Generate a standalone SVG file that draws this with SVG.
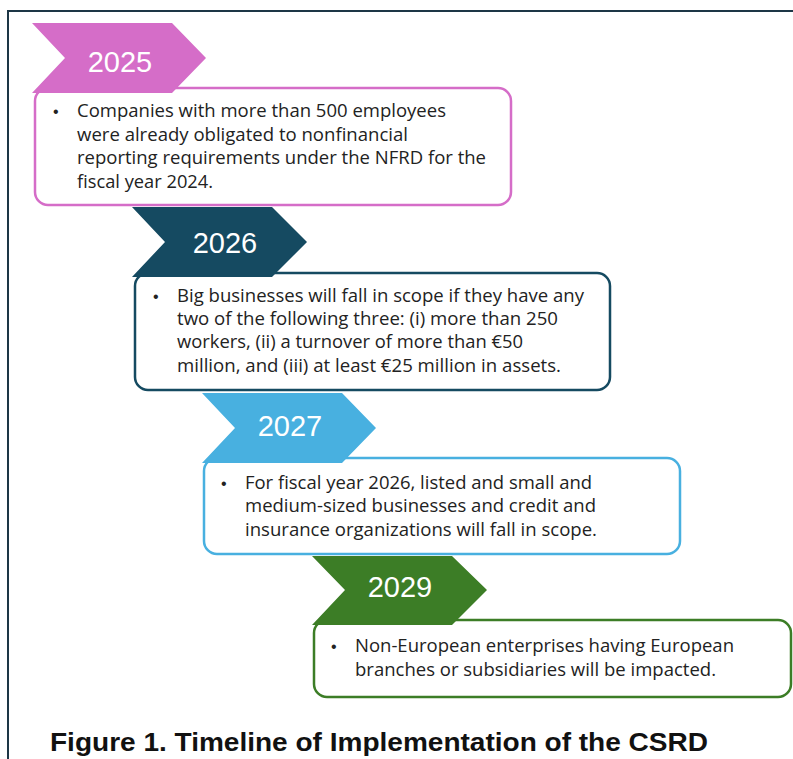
<svg xmlns="http://www.w3.org/2000/svg" width="793" height="759" viewBox="0 0 793 759">
  <style>
    .frame { stroke: #1d3646; stroke-width: 2; fill: none; }
    .box { fill: #ffffff; stroke-width: 2.5; }
    .year { font-family: "Liberation Sans", Arial, sans-serif; font-size: 29px; fill: #ffffff; text-anchor: middle; }
    .body { font-family: "Open Sans", "Noto Sans", sans-serif; font-size: 17.5px; fill: #222222; }
    .bullet { font-family: "Liberation Sans", Arial, sans-serif; font-size: 16px; fill: #222222; }
    .caption { font-family: "Liberation Sans", Arial, sans-serif; font-size: 25px; font-weight: bold; fill: #111111; }
  </style>

  <rect width="793" height="759" fill="#ffffff"/>

  <!-- outer frame -->
  <path class="frame" d="M8,759 V11 H793"/>

  <!-- 2025 -->
  <g id="step-2025">
    <rect class="box" x="35" y="88" width="476" height="117" rx="13" stroke="#d56dc8"/>
    <polygon points="32,23 172,23 206,58 172,93 32,93 65,58" fill="#d56dc8"/>
    <text class="year" x="120" y="72">2025</text>
    <text class="bullet" x="53" y="117">•</text>
    <text class="body" x="77" y="117" textLength="369" lengthAdjust="spacingAndGlyphs">Companies with more than 500 employees</text>
    <text class="body" x="77" y="141" textLength="331" lengthAdjust="spacingAndGlyphs">were already obligated to nonfinancial</text>
    <text class="body" x="77" y="164" textLength="409" lengthAdjust="spacingAndGlyphs">reporting requirements under the NFRD for the</text>
    <text class="body" x="77" y="188" textLength="136" lengthAdjust="spacingAndGlyphs">fiscal year 2024.</text>
  </g>

  <!-- 2026 -->
  <g id="step-2026">
    <rect class="box" x="135" y="273" width="475" height="117" rx="13" stroke="#154a61"/>
    <polygon points="132,207 272,207 307,242 272,277 132,277 165,242" fill="#154a61"/>
    <text class="year" x="225" y="253">2026</text>
    <text class="bullet" x="153" y="302">•</text>
    <text class="body" x="177" y="302" textLength="407" lengthAdjust="spacingAndGlyphs">Big businesses will fall in scope if they have any</text>
    <text class="body" x="177" y="325" textLength="381" lengthAdjust="spacingAndGlyphs">two of the following three: (i) more than 250</text>
    <text class="body" x="177" y="348" textLength="346" lengthAdjust="spacingAndGlyphs">workers, (ii) a turnover of more than €50</text>
    <text class="body" x="177" y="372" textLength="384" lengthAdjust="spacingAndGlyphs">million, and (iii) at least €25 million in assets.</text>
  </g>

  <!-- 2027 -->
  <g id="step-2027">
    <rect class="box" x="204" y="458" width="476" height="96" rx="13" stroke="#48b0e0"/>
    <polygon points="202,393 342,393 376,428 342,463 202,463 235,428" fill="#48b0e0"/>
    <text class="year" x="290" y="436">2027</text>
    <text class="bullet" x="221" y="489">•</text>
    <text class="body" x="245" y="489" textLength="347" lengthAdjust="spacingAndGlyphs">For fiscal year 2026, listed and small and</text>
    <text class="body" x="245" y="512" textLength="351" lengthAdjust="spacingAndGlyphs">medium-sized businesses and credit and</text>
    <text class="body" x="245" y="536" textLength="352" lengthAdjust="spacingAndGlyphs">insurance organizations will fall in scope.</text>
  </g>

  <!-- 2029 -->
  <g id="step-2029">
    <rect class="box" x="314" y="620" width="477" height="77" rx="13" stroke="#3c7d26"/>
    <polygon points="312,556 452,556 487,590 452,625 312,625 345,590" fill="#3c7d26"/>
    <text class="year" x="400" y="597">2029</text>
    <text class="bullet" x="331" y="652">•</text>
    <text class="body" x="355" y="652" textLength="379" lengthAdjust="spacingAndGlyphs">Non-European enterprises having European</text>
    <text class="body" x="355" y="676" textLength="361" lengthAdjust="spacingAndGlyphs">branches or subsidiaries will be impacted.</text>
  </g>

  <g id="connectors"/>

  <text class="caption" x="50" y="751" textLength="658" lengthAdjust="spacingAndGlyphs">Figure 1. Timeline of Implementation of the CSRD</text>
</svg>
